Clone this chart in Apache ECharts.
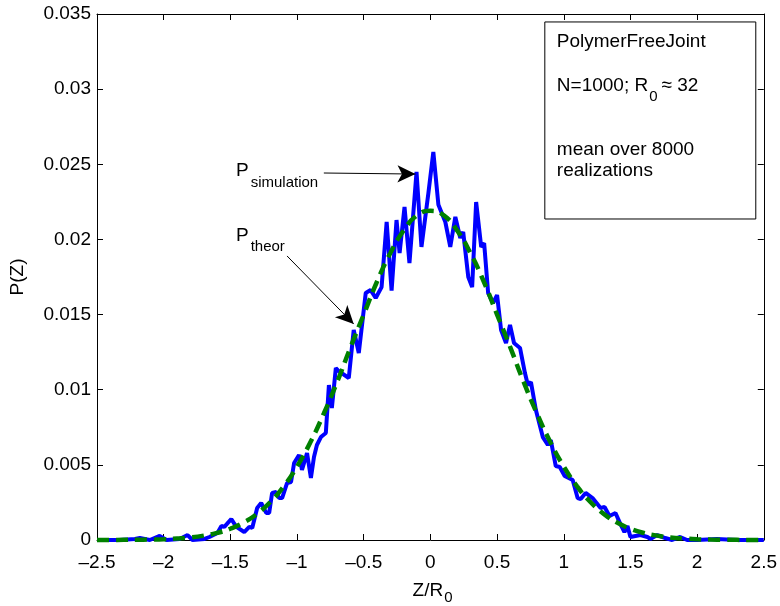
<!DOCTYPE html>
<html><head><meta charset="utf-8">
<script src="https://cdn.jsdelivr.net/npm/echarts@6/dist/echarts.min.js"></script>
<style>html,body{margin:0;padding:0;background:#fff}#c{width:780px;height:606px}</style>
</head><body><div id="c"></div>
<script>
// ---- data ----
const zSim = [-2.5,-2.328,-2.216,-2.179,-2.104,-2.030,-1.978,-1.881,-1.821,-1.784,-1.694,-1.657,-1.597,-1.567,-1.545,-1.493,-1.455,-1.396,-1.358,-1.336,-1.299,-1.269,-1.231,-1.209,-1.187,-1.157,-1.134,-1.112,-1.075,-1.045,-1.022,-0.985,-0.963,-0.925,-0.896,-0.873,-0.851,-0.821,-0.784,-0.761,-0.739,-0.709,-0.687,-0.612,-0.575,-0.537,-0.485,-0.448,-0.410,-0.366,-0.328,-0.291,-0.254,-0.231,-0.194,-0.157,-0.104,-0.067,-0.015,0.022,0.060,0.112,0.149,0.187,0.224,0.246,0.284,0.313,0.343,0.381,0.403,0.433,0.470,0.500,0.530,0.567,0.597,0.627,0.672,0.709,0.731,0.754,0.791,0.843,0.881,0.903,0.940,0.970,1.007,1.067,1.104,1.127,1.164,1.216,1.276,1.306,1.343,1.388,1.425,1.455,1.478,1.500,1.575,1.627,1.649,1.701,1.761,1.813,1.873,1.925,2.0,2.149,2.299,2.5];
const pSim = [0,0,0.00007,0.00013,0,0.00027,0,0.00007,0.00033,0,0.00007,0.0002,0.00047,0.00093,0.00087,0.0014,0.00087,0.00053,0.00087,0.0008,0.00213,0.00246,0.0018,0.0018,0.00313,0.00319,0.00279,0.00279,0.00379,0.00386,0.00512,0.00566,0.00466,0.00579,0.00413,0.00552,0.00632,0.00685,0.00712,0.01031,0.00878,0.01144,0.01124,0.01078,0.01397,0.01244,0.01643,0.01663,0.0161,0.01683,0.02116,0.0166,0.02129,0.0191,0.02216,0.01843,0.02449,0.0195,0.02309,0.02582,0.0223,0.02116,0.0195,0.0215,0.0201,0.0205,0.0175,0.01683,0.02249,0.0195,0.01976,0.01643,0.01577,0.0163,0.01397,0.01311,0.01431,0.01311,0.01278,0.01111,0.01031,0.01051,0.00865,0.00685,0.00632,0.00665,0.00492,0.00486,0.00426,0.00399,0.00279,0.00273,0.00313,0.00279,0.00213,0.0022,0.0016,0.0018,0.00106,0.00053,0.00093,0.0002,0.00033,0.0002,0.00007,0.00033,0.00013,0,0.0002,0,0,0.00007,0,0];
const zTheor = [-2.5,-2.4,-2.3,-2.2,-2.1,-2.0,-1.9,-1.8,-1.7,-1.6,-1.5,-1.4,-1.3,-1.2,-1.1,-1.0,-0.9,-0.8,-0.7,-0.6,-0.5,-0.4,-0.3,-0.2,-0.1,0,0.1,0.2,0.3,0.4,0.5,0.6,0.7,0.8,0.9,1.0,1.1,1.2,1.3,1.4,1.5,1.6,1.7,1.8,1.9,2.0,2.1,2.2,2.3,2.4,2.5];
const pTheor = [0,0,0.00001,0.00002,0.00003,0.00005,0.0001,0.00017,0.00029,0.00047,0.00075,0.00116,0.00174,0.00253,0.00357,0.00489,0.0065,0.0084,0.0105,0.0128,0.0150,0.0172,0.0191,0.0206,0.0216,0.0219,0.0216,0.0206,0.0191,0.0172,0.0150,0.0128,0.0105,0.0084,0.0065,0.00489,0.00357,0.00253,0.00174,0.00116,0.00075,0.00047,0.00029,0.00017,0.0001,0.00005,0.00003,0.00002,0.00001,0,0];
const xTicks = [-2.5,-2,-1.5,-1,-0.5,0,0.5,1,1.5,2,2.5];
const xTickLabels = ['\u20132.5','\u20132','\u20131.5','\u20131','\u20130.5','0','0.5','1','1.5','2','2.5'];
const yTicks = [0,0.005,0.01,0.015,0.02,0.025,0.03,0.035];
const yTickLabels = ['0','0.005','0.01','0.015','0.02','0.025','0.03','0.035'];
const boxTitle = 'PolymerFreeJoint';
const boxLine2 = ['N=1000; R','0','\u2248 32'];
const boxLine3 = 'mean over 8000';
const boxLine4 = 'realizations';
const xName = ['Z/R','0'];
const yName = 'P(Z)';
const simLabel = ['P','simulation'];
const theorLabel = ['P','theor'];

// annotation geometry (data coordinates)
const arrowSim = [[-0.799,0.02442],[-0.112,0.02435]];
const arrowTheor = [[-1.075,0.0189],[-0.575,0.01437]];
const boxCorners = [[0.858,0.03447],[2.440,0.02136]];

const FAM = '"Liberation Sans", Arial, Helvetica, sans-serif';
const FS = 19, SUB = 15;

function lab(list, labels){
  return function(v){
    for (let i=0;i<list.length;i++) if (Math.abs(list[i]-v)<1e-9) return labels[i];
    return '';
  };
}
const chart = echarts.init(document.getElementById('c'), null, {renderer:'canvas'});
const axisCommon = {
  axisLine:{show:true,onZero:false,lineStyle:{color:'#000',width:1}},
  axisTick:{show:true,inside:true,length:6,lineStyle:{color:'#000',width:1}},
  splitLine:{show:false}
};
const option = {
  animation:false,
  backgroundColor:'#fff',
  grid:{left:97,right:12,top:14,bottom:66,containLabel:false},
  xAxis:[
    Object.assign({type:'value',min:-2.5,max:2.5,interval:0.5,position:'bottom',
      axisLabel:{show:true,color:'#000',fontFamily:FAM,fontSize:FS,margin:13,formatter:lab(xTicks,xTickLabels)}},axisCommon),
    Object.assign({type:'value',min:-2.5,max:2.5,interval:0.5,position:'top',
      axisLabel:{show:false}},axisCommon)
  ],
  yAxis:[
    Object.assign({type:'value',min:0,max:0.035,interval:0.005,position:'left',
      axisLabel:{show:true,color:'#000',fontFamily:FAM,fontSize:FS,margin:6,formatter:lab(yTicks,yTickLabels)}},axisCommon),
    Object.assign({type:'value',min:0,max:0.035,interval:0.005,position:'right',
      axisLabel:{show:false}},axisCommon)
  ],
  series:[
    {type:'line',name:'sim',data:zSim.map((z,i)=>[z,pSim[i]]),showSymbol:false,symbol:'none',clip:false,
     lineStyle:{color:'#0000ff',width:4},z:2,
     markLine:{silent:true,symbol:['none','arrow'],symbolSize:[13,18],animation:false,
       label:{show:false},lineStyle:{color:'#000',width:1,type:'solid'},
       data:[[{coord:arrowSim[0]},{coord:arrowSim[1]}],[{coord:arrowTheor[0]},{coord:arrowTheor[1]}]]}},
    {type:'line',name:'theor',data:zTheor.map((z,i)=>[z,pTheor[i]]),showSymbol:false,symbol:'none',clip:false,smooth:true,
     lineStyle:{color:'#008000',width:4.5,type:[12,7]},z:3}
  ]
};
chart.setOption(option);

const mctx = document.createElement('canvas').getContext('2d');
function tw(t, fs){ mctx.font = fs+'px '+FAM; return mctx.measureText(t).width; }
function T(text,x,y,fs,extra){
  return Object.assign({type:'text',x:x,y:y,silent:true,z:100,
    style:Object.assign({text:text,fill:'#000',font:fs+'px '+FAM,textAlign:'left',textVerticalAlign:'middle',verticalAlign:'middle'},extra||{})});
}
const g = [];
const c0 = chart.convertToPixel({xAxisIndex:0,yAxisIndex:0},boxCorners[0]);
const c1 = chart.convertToPixel({xAxisIndex:0,yAxisIndex:0},boxCorners[1]);
g.push({type:'rect',silent:true,z:90,shape:{x:c0[0],y:c0[1],width:c1[0]-c0[0],height:c1[1]-c0[1]},
  style:{fill:'#fff',stroke:'#000',lineWidth:1}});
const bx = c0[0]+12;
g.push(T(boxTitle,bx,42,FS));
let x2 = bx;
g.push(T(boxLine2[0],x2,86,FS)); x2 += tw(boxLine2[0],FS)+1;
g.push(T(boxLine2[1],x2,97,SUB)); x2 += tw(boxLine2[1],SUB)+4;
g.push(T(boxLine2[2],x2,86,FS));
g.push(T(boxLine3,bx,150,FS));
g.push(T(boxLine4,bx,171,FS));
// annotation labels
g.push(T(simLabel[0],236,171,FS)); g.push(T(simLabel[1],236+tw('P',FS)+2,183,SUB));
g.push(T(theorLabel[0],236,236,FS)); g.push(T(theorLabel[1],236+tw('P',FS)+2,247,SUB));
// axis names
g.push(T(yName,18,277,FS,{textAlign:'center',align:'center'}));
g[g.length-1].rotation = Math.PI/2;
const xw = tw(xName[0],FS);
const xs = 432 - (xw + tw(xName[1],SUB))/2;
g.push(T(xName[0],xs,591,FS));
g.push(T(xName[1],xs+xw+1,598,SUB));
chart.setOption({graphic:g});
</script></body></html>
